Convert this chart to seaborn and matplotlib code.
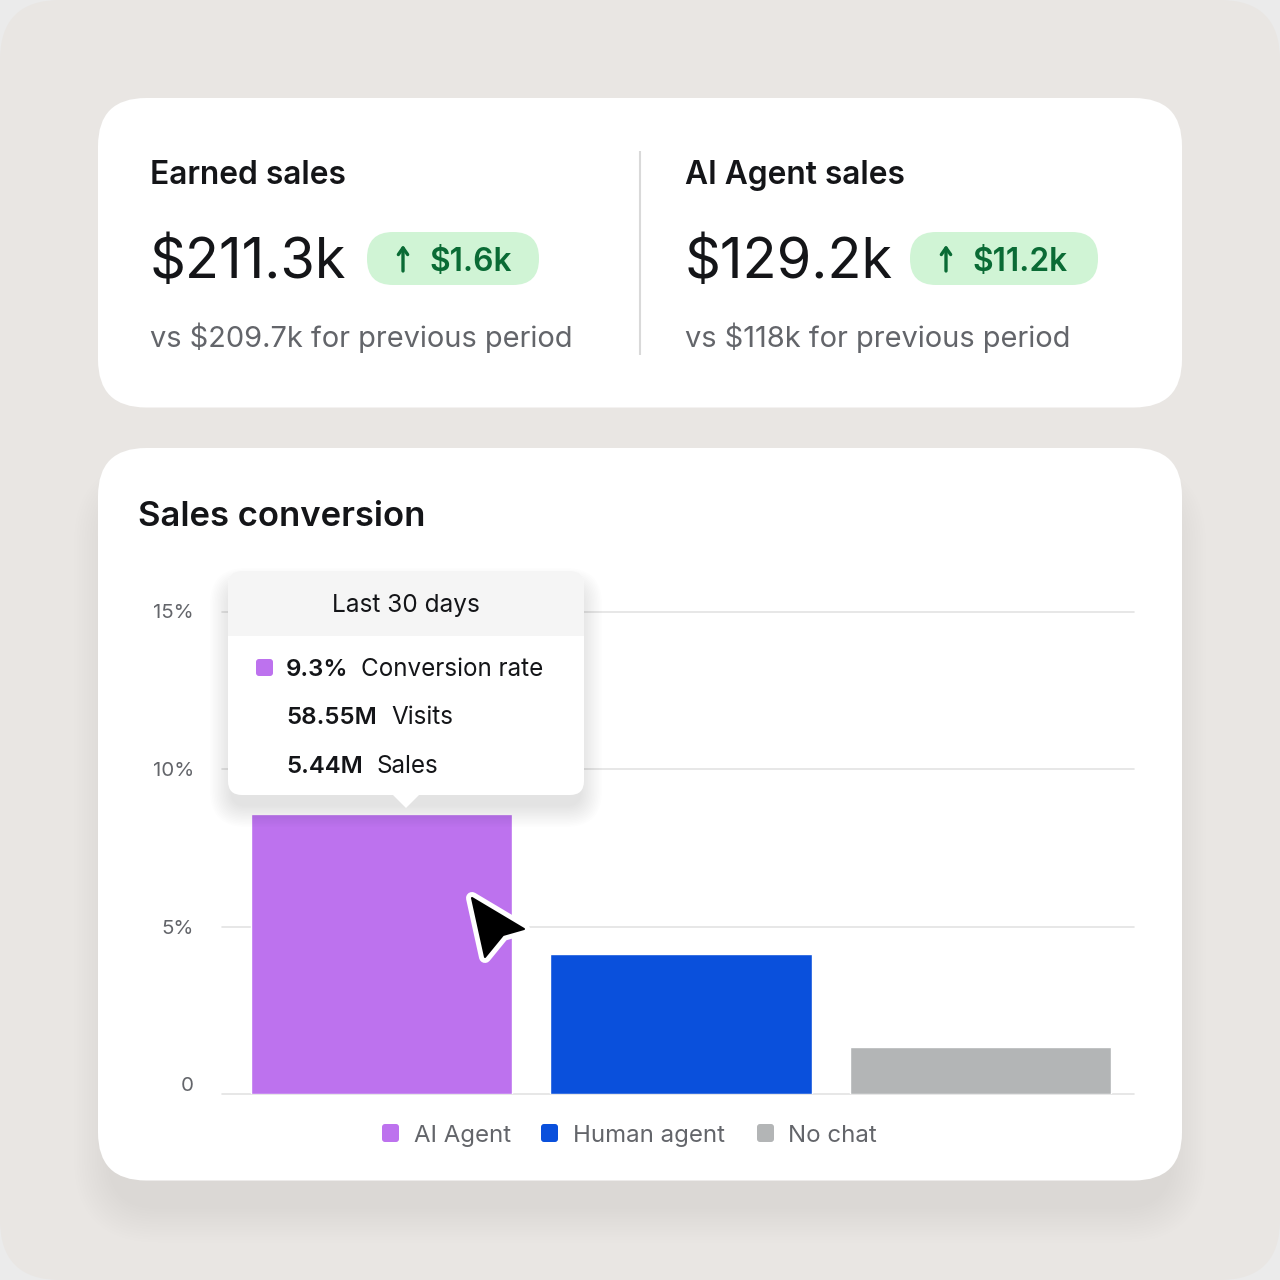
import numpy as np
import matplotlib
matplotlib.use("Agg")
import matplotlib.pyplot as plt
import pandas as pd
import seaborn as sns
from matplotlib.patches import FancyBboxPatch, Polygon, Rectangle
from matplotlib.transforms import ScaledTranslation

categories = ["AI Agent", "Human agent", "No chat"]
conversion = [8.57, 4.18, 1.40]
bar_colors = ["#BD72EE", "#0A50DC", "#B3B5B6"]
y_ticks = [0, 5, 10, 15]
y_tick_labels = ["0", "5%", "10%", "15%"]
# the gridlines in the picture are not evenly spaced near zero
tick_px = [0, 167.5, 325, 482.5]

DARK = "#141518"
GREY = "#63656A"
GREEN = "#0A6B35"
PILL = "#D0F4D5"

sns.set_theme(style="white")
plt.rcParams["font.family"] = ["Inter", "DejaVu Sans"]
PT = 0.72  # px to pt at dpi 100


def rounded(ax, x0, y0, x1, y1, r, **kw):
    p = FancyBboxPatch((x0 + r, y0 + r), x1 - x0 - 2 * r, y1 - y0 - 2 * r,
                       boxstyle=f"round,pad={r},rounding_size={r}", linewidth=kw.pop("lw", 0), **kw)
    ax.add_patch(p)
    return p


def shadow(ax, x0, y0, x1, y1, r, dy, spread, alpha, steps=14):
    for i in range(steps):
        g = spread * (1 - i / steps)
        rounded(ax, x0 - g, y0 - g + dy, x1 + g, y1 + g + dy, r + g, fc="black", alpha=alpha)


fig = plt.figure(figsize=(12.8, 12.8), dpi=100, facecolor="#EBEBEB")

# page layer in pixel coordinates
bg = fig.add_axes([0, 0, 1, 1], zorder=0)
bg.set_xlim(0, 1280)
bg.set_ylim(1280, 0)
bg.axis("off")

rounded(bg, 0, 0, 1280, 1280, 60, fc="#E9E6E3")
shadow(bg, 98, 98, 1182, 407.5, 48, 3, 8, 0.0012)
rounded(bg, 98, 98, 1182, 407.5, 48, fc="white")
shadow(bg, 110, 470, 1170, 1180.5, 48, 26, 36, 0.0032)
rounded(bg, 98, 448, 1182, 1180.5, 48, fc="white")
bg.plot([640, 640], [151, 355], color="#D9D9D9", lw=1.5, solid_capstyle="butt")


def stat_block(x, title, value, pill_x0, pill_x1, delta, delta_x, note):
    bg.text(x, 184, title, fontsize=31.7 * PT, fontweight=600, color=DARK, va="baseline")
    bg.text(x, 278, value, fontsize=55.8 * PT, color=DARK, va="baseline")
    rounded(bg, pill_x0, 232, pill_x1, 285, 26, fc=PILL)
    ax_x = pill_x0 + 36
    bg.annotate("", xy=(ax_x, 245), xytext=(ax_x, 271),
                arrowprops=dict(arrowstyle="->,head_width=0.28,head_length=0.4", color=GREEN, lw=2.4,
                                shrinkA=0, shrinkB=0))
    bg.text(delta_x, 271, delta, fontsize=31.7 * PT, fontweight=600, color=GREEN, va="baseline")
    bg.text(x, 347, note, fontsize=29 * PT, color=GREY, va="baseline")


stat_block(150, "Earned sales", "$211.3k", 367, 539, "$1.6k", 429, "vs $209.7k for previous period")
stat_block(685, "AI Agent sales", "$129.2k", 910, 1098, "$11.2k", 972, "vs $118k for previous period")

bg.text(138, 526, "Sales conversion", fontsize=34.7 * PT, fontweight=600, color=DARK, va="baseline")

# bar chart
ax = fig.add_axes([222 / 1280, 1 - 1094 / 1280, 912 / 1280, 482.5 / 1280], zorder=1)
ax.patch.set_alpha(0)
ax.set_yscale("function", functions=(lambda v: np.interp(v, y_ticks, tick_px),
                                     lambda p: np.interp(p, tick_px, y_ticks)))
df = pd.DataFrame({"channel": categories, "conversion": conversion})
sns.barplot(data=df, x="channel", y="conversion", hue="channel", palette=bar_colors,
            width=0.872, saturation=1, legend=False, ax=ax, zorder=3)
ax.set_xlim(-0.5326, 2.5125)
ax.set_ylim(0, 15)
ax.set_yticks(y_ticks)
ax.set_yticklabels(y_tick_labels, fontsize=20.5 * PT, color=GREY)
ax.set_xticks([])
ax.set_xlabel("")
ax.set_ylabel("")
ax.minorticks_off()
ax.tick_params(axis="y", length=0, pad=28 * PT)
ax.grid(axis="y", color="#E3E3E3", lw=1.2, clip_on=False)
ax.set_axisbelow(True)
sns.despine(ax=ax, left=True, right=True, top=True, bottom=True)
# zero label sits above the baseline in the picture
zero = ax.yaxis.get_major_ticks()[0].label1
zero.set_transform(zero.get_transform() + ScaledTranslation(0, 10 / 100, fig.dpi_scale_trans))

# overlay: legend, tooltip, cursor
top = fig.add_axes([0, 0, 1, 1], zorder=2)
top.set_xlim(0, 1280)
top.set_ylim(1280, 0)
top.axis("off")
top.patch.set_alpha(0)

legend_sq = [382, 541, 757]
legend_tx = [414, 573, 788]
for sq, tx, name, col in zip(legend_sq, legend_tx, categories, bar_colors):
    rounded(top, sq, 1124, sq + 17, 1142, 3, fc=col)
    top.text(tx, 1142, name, fontsize=24 * PT, color=GREY, va="baseline")

shadow(top, 232, 580, 580, 795, 14, 10, 22, 0.006)
rounded(top, 228, 571, 584, 795, 14, fc="white")
top.add_patch(Polygon([[392, 794], [420, 794], [406, 808]], closed=True, fc="white", lw=0))
clip = rounded(top, 228, 571, 584, 795, 14, fc="none")
head = Rectangle((228, 571), 356, 65, fc="#F5F5F5", lw=0)
top.add_patch(head)
head.set_clip_path(clip)
top.text(406, 612, "Last 30 days", fontsize=24.4 * PT, color=DARK, ha="center", va="baseline")
rounded(top, 256, 659, 273, 676, 3, fc=bar_colors[0])
rows = [(676, "9.3%", 361, "Conversion rate"), (724, "58.55M", 391, "Visits"), (773, "5.44M", 377, "Sales")]
for base, val, lab_x, lab in rows:
    top.text(286, base, val, fontsize=24 * PT, fontweight=600, color=DARK, va="baseline")
    top.text(lab_x, base, lab, fontsize=24.2 * PT, color=DARK, va="baseline")

cursor = [[472, 898], [524, 929], [503, 935], [485, 957]]
top.add_patch(Polygon(cursor, closed=True, fc="black", ec="white", lw=12 * PT, joinstyle="round", zorder=5))
top.add_patch(Polygon(cursor, closed=True, fc="black", ec="black", lw=1.5, joinstyle="round", zorder=6))

fig.savefig("out.png", dpi=100, facecolor=fig.get_facecolor())
